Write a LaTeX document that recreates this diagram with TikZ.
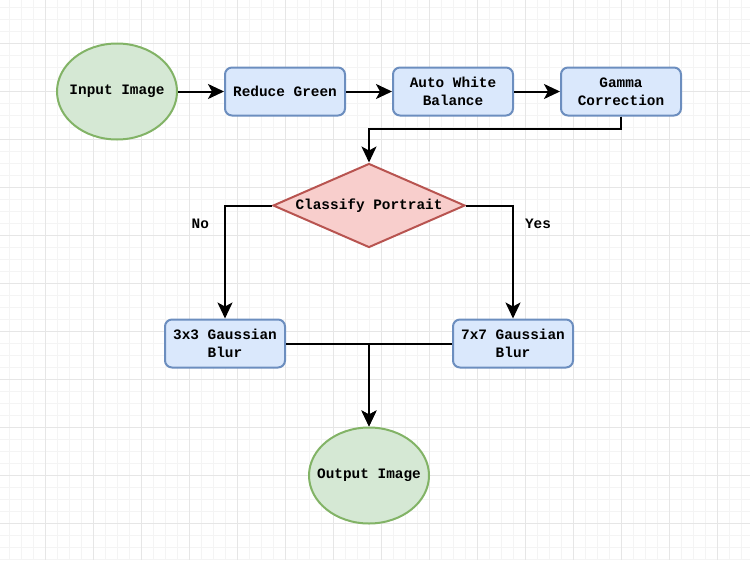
\documentclass[tikz,border=0pt]{standalone}
\usepackage{fontspec}
\setmainfont{Liberation Mono}
\usetikzlibrary{shapes.geometric,arrows.meta,positioning}

\definecolor{termfill}{HTML}{D5E8D4}
\definecolor{termline}{HTML}{82B366}
\definecolor{procfill}{HTML}{DAE8FC}
\definecolor{procline}{HTML}{6C8EBF}
\definecolor{decfill}{HTML}{F8CECC}
\definecolor{decline}{HTML}{B85450}
\definecolor{gridminor}{HTML}{F4F4F4}
\definecolor{gridmajor}{HTML}{E6E6E6}

\begin{document}
\begin{tikzpicture}[
    x=1pt, y=-1pt,
    node distance=46pt,
    font=\fontsize{14.4}{18}\selectfont\bfseries,
    terminal/.style={ellipse, draw=termline, fill=termfill, line width=2pt, minimum width=120pt, minimum height=96pt, inner sep=0pt},
    process/.style={rectangle, rounded corners=7pt, draw=procline, fill=procfill, line width=2pt, minimum width=120pt, minimum height=48pt, align=center, inner sep=0pt},
    decision/.style={diamond, aspect=2.29, draw=decline, fill=decfill, line width=2pt, minimum width=192pt, minimum height=84pt, inner sep=0pt},
    arrow/.style={-{Stealth[length=16pt, width=15pt, inset=4pt]}, line width=2pt},
    elabel/.style={inner sep=0pt}
]
    \useasboundingbox (0,0) rectangle (750,560);

    % Grid
    \foreach \x in {9,21,...,745} \draw[gridminor, line width=1pt] (\x,0) -- (\x,560);
    \foreach \y in {7,19,...,559} \draw[gridminor, line width=1pt] (0,\y) -- (750,\y);
    \foreach \x in {45,93,...,745} \draw[gridmajor, line width=1pt] (\x,0) -- (\x,560);
    \foreach \y in {43,91,...,559} \draw[gridmajor, line width=1pt] (0,\y) -- (750,\y);

    % Pipeline
    \node[terminal] (input) at (117,91.5) {\makebox[0pt]{Input Image}};
    \node[process, right=of input] (reduce) {Reduce Green};
    \node[process, right=of reduce] (awb) {Auto White\\Balance};
    \node[process, right=of awb] (gamma) {Gamma\\Correction};

    % Decision and branches
    \node[decision] (classify) at (369,205.5) {Classify Portrait};
    \node[process] (blur3) at (225,343.5) {3x3 Gaussian\\Blur};
    \node[process] (blur7) at (513,343.5) {7x7 Gaussian\\Blur};
    \node[terminal] (output) at (369,475.5) {\makebox[0pt]{Output Image}};

    % Arrows
    \draw[arrow] (input) -- (reduce);
    \draw[arrow] (reduce) -- (awb);
    \draw[arrow] (awb) -- (gamma);
    \draw[arrow] (gamma.south) -- ++(0,12) -| (classify.north);
    \draw[arrow] (classify.west) -| node[elabel, pos=0.58, left=15pt] (nolabel) {No} (blur3.north);
    \draw[arrow] (classify.east) -| node[elabel, pos=0.58, right=11pt] (yeslabel) {Yes} (blur7.north);
    \draw[arrow] (blur3.east) -| (output.north);
    \draw[arrow] (blur7.west) -| (output.north);

\end{tikzpicture}
\end{document}
